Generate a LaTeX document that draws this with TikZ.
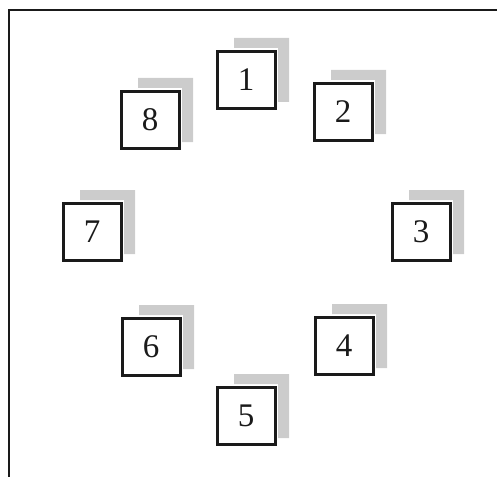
\documentclass[tikz,border=0pt]{standalone}
\usepackage{fontspec}
\setmainfont{Liberation Serif}
\usepackage{tikz}
\usetikzlibrary{calc}
\usepackage{xcolor}
\definecolor{inkblack}{HTML}{1A1A1A}
\definecolor{smudgegray}{HTML}{9A9A9A}

\begin{document}
\begin{tikzpicture}[
  x=1pt, y=-1pt,
  font=\fontsize{33pt}{36pt}\selectfont,
  cellbox/.style={
    draw=inkblack,
    fill=white,
    line width=3pt,
    minimum width=58pt,
    minimum height=57pt,
    inner sep=0pt,
    text=inkblack
  },
  smudge/.style={
    fill=smudgegray,
    opacity=0.5
  },
  frameline/.style={
    draw=inkblack,
    line width=2.6pt
  }
]
  \useasboundingbox (0,0) rectangle (497,476);

  % ---------------------------------------------------------------------------
  % OUTER FRAME
  % ---------------------------------------------------------------------------
  \draw[frameline] (9,490) -- (9,10) -- (510,10);

  % ---------------------------------------------------------------------------
  % NUMBERED CELLS (ring of eight)
  % ---------------------------------------------------------------------------
  \foreach \n/\px/\py in {1/246/80, 2/343/112, 3/421/232, 4/344/346,
                          5/246/416, 6/151/347, 7/92/232, 8/150/120} {
    % blurred marks above and to the right of each cell
    \fill[smudge] (\px-12,\py-42) rectangle (\px+43,\py-32)
                  (\px+32,\py-32) rectangle (\px+43,\py+22);
    \node[cellbox] (cell\n) at (\px,\py) {\n};
  }

\end{tikzpicture}
\end{document}
